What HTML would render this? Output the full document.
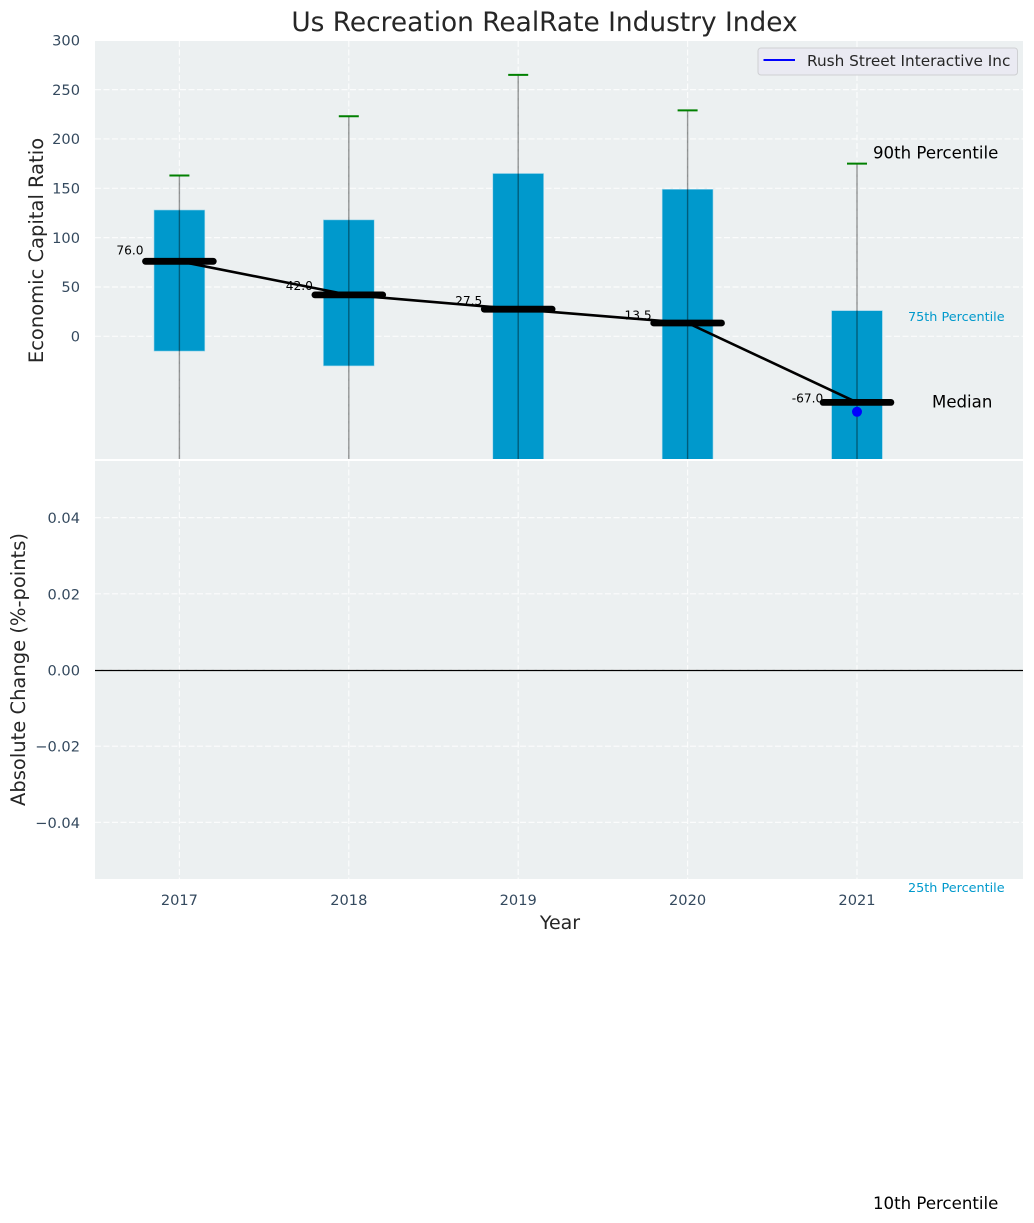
<!DOCTYPE html>
<html lang="en">
<head>
<meta charset="utf-8">
<title>Us Recreation RealRate Industry Index</title>
<style>
html,body{margin:0;padding:0;background:#fff;width:1034px;height:1223px;overflow:hidden}
svg{display:block;font-family:"DejaVu Sans","Liberation Sans",sans-serif}
</style>
</head>
<body>
<svg id="chart" xmlns="http://www.w3.org/2000/svg" width="1034" height="1223" viewBox="0 0 1034 1223">
  <defs>
    <clipPath id="top-clip"><rect x="95" y="41" width="928" height="418"/></clipPath>
  </defs>
  <rect x="95" y="41" width="928" height="418" fill="#ecf0f1"/>
  <rect x="95" y="461" width="928" height="418" fill="#ecf0f1"/>
  <g id="grid"></g>
  <g id="marks" clip-path="url(#top-clip)"></g>
  <line x1="95" x2="1023" y1="670.5" y2="670.5" stroke="#000" stroke-width="1.3"/>
  <g id="labels"></g>
  <text x="544.5" y="31" text-anchor="middle" font-size="26.4px" fill="#262626">Us Recreation RealRate Industry Index</text>
  <text transform="translate(43,250.5) rotate(-90)" text-anchor="middle" font-size="19.5px" fill="#262626">Economic Capital Ratio</text>
  <text transform="translate(25,669.5) rotate(-90)" text-anchor="middle" font-size="19.5px" fill="#262626">Absolute Change (%-points)</text>
  <text x="560" y="929" text-anchor="middle" font-size="19px" fill="#262626">Year</text>
  <g>
    <rect x="758" y="48" width="259.5" height="27" rx="3" fill="#eaeaf2" stroke="#cfd0d3" stroke-width="1"/>
    <line x1="763.5" x2="795" y1="60" y2="60" stroke="#0000ff" stroke-width="2"/>
    <text x="807" y="66" font-size="15.3px" fill="#262626">Rush Street Interactive Inc</text>
  </g>
  <g id="annotations">
    <text id="label-p90" x="873" font-size="16.6px" fill="#000">90th Percentile</text>
    <text id="label-p75" x="908" font-size="12.8px" fill="#0099cc">75th Percentile</text>
    <text id="label-median" x="932" font-size="16.6px" fill="#000">Median</text>
    <text id="label-p25" x="908" font-size="12.8px" fill="#0099cc">25th Percentile</text>
    <text id="label-p10" x="873" font-size="16.6px" fill="#000">10th Percentile</text>
  </g>
</svg>
<script>
const years = [2017, 2018, 2019, 2020, 2021];
const p90 = [163, 223, 265, 229, 175];
const p75 = [128, 118, 165, 149, 26];
const median = [76, 42, 27.5, 13.5, -67];
const p25 = [-15, -30, -160, -150, -552];
const p10 = [-200, -220, -300, -290, -878];
const company = [null, null, null, null, -76.5];
const topTicks = [0, 50, 100, 150, 200, 250, 300];
const bottomTicks = [0.04, 0.02, 0, -0.02, -0.04];
const bottomTickText = ['0.04', '0.02', '0.00', '\u22120.02', '\u22120.04'];

const NS = 'http://www.w3.org/2000/svg';
const x = v => 179.4 + (v - 2017) * 169.4;
const y = v => 336.3 - v * 0.9867;
const yBottom = v => 670 - v * 3810;
const grid = document.getElementById('grid');
const marks = document.getElementById('marks');
const labels = document.getElementById('labels');

function make(parent, tag, attrs, content) {
  const el = document.createElementNS(NS, tag);
  for (const k in attrs) el.setAttribute(k, attrs[k]);
  if (content !== undefined) el.textContent = content;
  parent.appendChild(el);
  return el;
}
const dash = { stroke: '#fff', 'stroke-width': 1.2, 'stroke-dasharray': '6 2.5', opacity: 0.8 };
const tickColor = '#34495e';
let el;

topTicks.forEach(t => {
  el = make(grid, 'line', Object.assign({ x1: 95, x2: 1023, y1: y(t), y2: y(t) }, dash));
  
  
  el = make(labels, 'text', { x: 80, y: y(t) + 5.2, 'text-anchor': 'end', 'font-size': '14.6px', fill: tickColor }, String(t));
  
  
});
bottomTicks.forEach((t, i) => {
  el = make(grid, 'line', Object.assign({ x1: 95, x2: 1023, y1: yBottom(t), y2: yBottom(t) }, dash));
  
  
  el = make(labels, 'text', { x: 80, y: yBottom(t) + 5.5, 'text-anchor': 'end', 'font-size': '14.6px', fill: tickColor }, bottomTickText[i]);
  
  
});
years.forEach((yr, i) => {
  el = make(grid, 'line', Object.assign({ x1: x(yr), x2: x(yr), y1: 41, y2: 459 }, dash));
  
  
  el = make(grid, 'line', Object.assign({ x1: x(yr), x2: x(yr), y1: 461, y2: 879 }, dash));
  
  
  el = make(labels, 'text', { x: x(yr), y: 905, 'text-anchor': 'middle', 'font-size': '14.6px', fill: tickColor }, String(yr));
  
  

  el = make(marks, 'rect', { x: x(yr) - 25.4, y: y(p75[i]), width: 50.8, height: y(p25[i]) - y(p75[i]), fill: '#0099cc', stroke: '#9fd6ea', 'stroke-width': 0.6 });
  
  
});
el = make(marks, 'polyline', { points: years.map((yr, i) => x(yr) + ',' + y(median[i])).join(' '), fill: 'none', stroke: '#000', 'stroke-width': 2.6 });


years.forEach((yr, i) => {
  el = make(marks, 'line', { x1: x(yr), x2: x(yr), y1: y(p90[i]), y2: y(p10[i]), stroke: '#000', 'stroke-opacity': 0.4, 'stroke-width': 1.4 });
  
  
  el = make(marks, 'line', { x1: x(yr) - 10, x2: x(yr) + 10, y1: y(p90[i]), y2: y(p90[i]), stroke: '#008000', 'stroke-width': 2 });
  
  
  el = make(marks, 'line', { x1: x(yr) - 33.9, x2: x(yr) + 33.9, y1: y(median[i]), y2: y(median[i]), stroke: '#000', 'stroke-width': 6.8, 'stroke-linecap': 'round' });
  
  
  el = make(labels, 'text', { x: x(yr) - 49.5, y: y(median[i] * 1.05 + 7.3) + 4.2, 'text-anchor': 'middle', 'font-size': '12.2px', fill: '#000' }, median[i].toFixed(1));
  
  
  if (company[i] !== null) {
    el = make(marks, 'circle', { cx: x(yr), cy: y(company[i]), r: 5, fill: '#0000ff' });
    
    
  }
});
const last = years.length - 1;
document.getElementById('label-p90').setAttribute('y', y(p90[last]) - 5.3);
document.getElementById('label-p75').setAttribute('y', y(p75[last]) + 10.2);
document.getElementById('label-median').setAttribute('y', y(median[last]) + 5.2);
document.getElementById('label-p25').setAttribute('y', y(p25[last]) + 11.2);
document.getElementById('label-p10').setAttribute('y', y(p10[last]) + 6.2);
</script>
</body>
</html>
